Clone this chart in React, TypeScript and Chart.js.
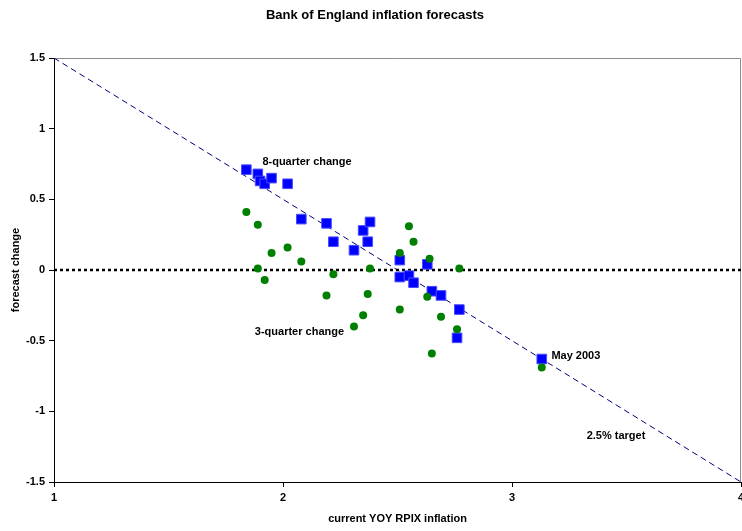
import React, { useEffect, useRef } from "react";
import { Chart, registerables } from "chart.js";

Chart.register(...registerables);

// 8-quarter change (blue squares)
const eightQX = [1.84, 1.89, 1.9, 1.92, 1.95, 2.02, 2.08, 2.19, 2.22, 2.31, 2.35, 2.38, 2.37, 2.51, 2.51, 2.55, 2.57, 2.63, 2.65, 2.69, 2.77, 2.76, 3.13];
const eightQY = [0.71, 0.68, 0.63, 0.61, 0.65, 0.61, 0.36, 0.33, 0.2, 0.14, 0.28, 0.34, 0.2, 0.07, -0.05, -0.04, -0.09, 0.04, -0.15, -0.18, -0.28, -0.48, -0.63];

// 3-quarter change (green dots)
const threeQX = [1.84, 1.89, 1.95, 2.02, 2.08, 1.89, 1.92, 2.22, 2.19, 2.37, 2.35, 2.31, 2.38, 2.51, 2.55, 2.57, 2.64, 2.77, 2.63, 2.51, 2.69, 2.76, 2.65, 3.13];
const threeQY = [0.41, 0.32, 0.12, 0.16, 0.06, 0.01, -0.07, -0.03, -0.18, -0.17, -0.32, -0.4, 0.01, 0.12, 0.31, 0.2, 0.08, 0.01, -0.19, -0.28, -0.33, -0.42, -0.59, -0.69];

// 2.5% target line and zero line
const targetX = [1, 4];
const targetY = [1.5, -1.5];
const zeroX = [1, 4];
const zeroY = [0, 0];

const xTickValues = [1, 2, 3, 4];
const yTickValues = [1.5, 1, 0.5, 0, -0.5, -1, -1.5];

const titleText = "Bank of England inflation forecasts";
const xTitle = "current YOY RPIX inflation";
const yTitle = "forecast change";

// annotation labels anchored in data units
const noteTexts = ["8-quarter change", "3-quarter change", "May 2003", "2.5% target"];
const noteX = [1.91, 1.877, 3.172, 3.326];
const noteY = [0.766, -0.437, -0.61, -1.177];

const FONT = "'Liberation Sans', Arial, sans-serif";

const zip = (xs: number[], ys: number[]) => xs.map((x, i) => ({ x, y: ys[i] }));

const decorPlugin = {
  id: "decor",
  beforeDatasetsDraw(chart: any) {
    const { ctx, chartArea } = chart;
    ctx.save();
    ctx.strokeStyle = "#8c8c8c";
    ctx.lineWidth = 1;
    ctx.beginPath();
    ctx.moveTo(chartArea.left, chartArea.top + 0.5);
    ctx.lineTo(chartArea.right - 0.5, chartArea.top + 0.5);
    ctx.lineTo(chartArea.right - 0.5, chartArea.bottom);
    ctx.stroke();
    ctx.restore();
  },
  afterDraw(chart: any) {
    const { ctx, chartArea, scales } = chart;
    ctx.save();
    ctx.fillStyle = "#000";
    ctx.textBaseline = "middle";
    // title
    ctx.font = `bold 13px ${FONT}`;
    ctx.textAlign = "center";
    ctx.fillText(titleText, chart.width / 2 + 4, 15);
    // x title
    ctx.font = `bold 11px ${FONT}`;
    ctx.fillText(xTitle, (chartArea.left + chartArea.right) / 2, 519);
    // y title
    ctx.save();
    ctx.translate(16, (chartArea.top + chartArea.bottom) / 2);
    ctx.rotate(-Math.PI / 2);
    ctx.fillText(yTitle, 0, 0);
    ctx.restore();
    // notes
    ctx.textAlign = "left";
    ctx.font = `bold 11px ${FONT}`;
    noteTexts.forEach((t, i) => {
      const px = scales.x.getPixelForValue(noteX[i]);
      const py = scales.y.getPixelForValue(noteY[i]);
      ctx.fillText(t, px, py);
    });
    ctx.restore();
  },
};

export default function App() {
  const ref = useRef<HTMLCanvasElement | null>(null);

  useEffect(() => {
    if (!ref.current) return;
    const chart = new Chart(ref.current, {
      type: "scatter",
      data: {
        datasets: [
          {
            label: "3-quarter change",
            data: zip(threeQX, threeQY),
            backgroundColor: "#008000",
            borderColor: "#008000",
            borderWidth: 0,
            pointStyle: "circle",
            pointRadius: 4,
          },
          {
            label: "8-quarter change",
            data: zip(eightQX, eightQY),
            backgroundColor: "#0000ff",
            borderColor: "#4a4aff",
            borderWidth: 1,
            pointStyle: "rect",
            pointRadius: 6.8,
          },
          {
            label: "zero",
            type: "line",
            data: zip(zeroX, zeroY),
            borderColor: "#000",
            borderWidth: 2.5,
            borderDash: [3, 3],
            pointRadius: 0,
            showLine: true,
            fill: false,
          },
          {
            label: "2.5% target",
            type: "line",
            data: zip(targetX, targetY),
            borderColor: "#000080",
            borderWidth: 1,
            borderDash: [6, 4],
            pointRadius: 0,
            showLine: true,
            fill: false,
          },
        ],
      } as any,
      options: {
        responsive: false,
        animation: false,
        events: [],
        layout: { autoPadding: false, padding: { top: 58, right: 1, left: 0, bottom: 0 } },
        plugins: {
          legend: { display: false },
          tooltip: { enabled: false },
          title: { display: false },
        },
        scales: {
          x: {
            type: "linear",
            min: 1,
            max: 4,
            afterBuildTicks: (s: any) => {
              s.ticks = xTickValues.map((v) => ({ value: v }));
            },
            afterFit: (s: any) => {
              s.height = 49;
              s.paddingLeft = 0;
              s.paddingRight = 0;
            },
            ticks: {
              color: "#000",
              font: { family: FONT, size: 11, weight: "bold" },
              padding: 4,
              maxRotation: 0,
              callback: (v: any) => String(v),
            },
            grid: {
              drawOnChartArea: false,
              drawTicks: true,
              tickLength: 5,
              tickColor: "#000",
              color: "#000",
            },
            border: { display: true, color: "#000", width: 1 },
          },
          y: {
            type: "linear",
            min: -1.5,
            max: 1.5,
            afterBuildTicks: (s: any) => {
              s.ticks = yTickValues.map((v) => ({ value: v }));
            },
            afterFit: (s: any) => {
              s.width = 54;
              s.paddingTop = 0;
              s.paddingBottom = 0;
            },
            ticks: {
              color: "#000",
              font: { family: FONT, size: 11, weight: "bold" },
              padding: 4,
              callback: (v: any) => String(v),
            },
            grid: {
              drawOnChartArea: false,
              drawTicks: true,
              tickLength: 5,
              tickColor: "#000",
              color: "#000",
            },
            border: { display: true, color: "#000", width: 1 },
          },
        },
      } as any,
      plugins: [decorPlugin],
    });
    return () => chart.destroy();
  }, []);

  return (
    <div style={{ position: "absolute", left: 0, top: 0, width: 742, height: 531, background: "#fff" }}>
      <canvas ref={ref} width={742} height={531} style={{ display: "block" }} />
    </div>
  );
}
